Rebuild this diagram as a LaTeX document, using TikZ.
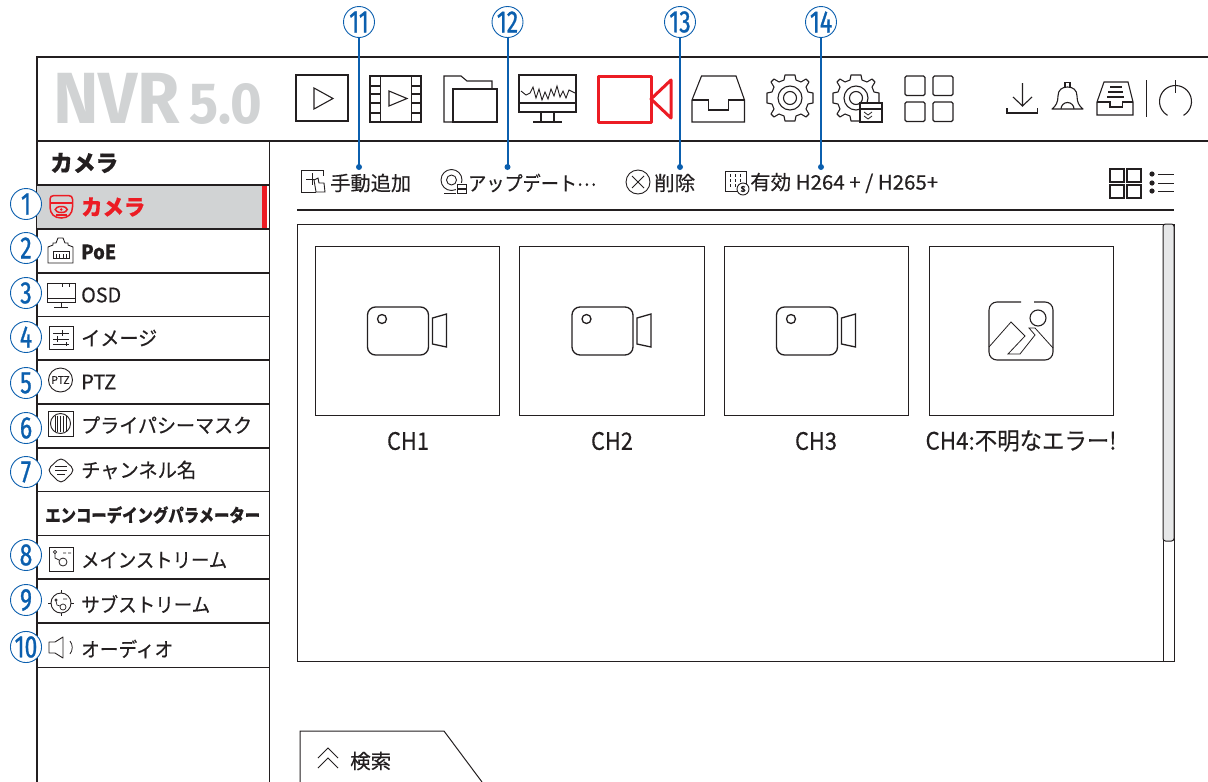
\documentclass[tikz,border=0pt]{standalone}
\usepackage{fontspec}
\usepackage{graphicx}
\setmainfont{Noto Sans CJK JP}[FakeBold=0.35]
\newfontfamily\numfont[FakeStretch=0.74,FakeBold=0.9]{Fira Sans}
\newfontfamily\logofont{Fira Sans}
\newcommand\fw[2]{\resizebox{#1pt}{\height}{#2}}
\definecolor{mblue}{HTML}{0B5FAE}
\definecolor{mred}{HTML}{EC1C24}
\definecolor{mink}{HTML}{231F20}
\definecolor{mgray}{HTML}{D1D3D4}
\definecolor{sgray}{HTML}{E6E7E8}
\tikzset{
 num/.style={circle,draw=mblue,fill=white,line width=0.9pt,minimum size=31pt,inner sep=0pt,text=mblue,font=\numfont\fontsize{31}{31}\selectfont},
 lead/.style={draw=mblue,line width=2pt},
 dot/.style={circle,fill=mblue,minimum size=6pt,inner sep=0pt},
 ic/.style={draw=mink,line width=1.1pt,line join=miter},
 rowline/.style={draw=mink,line width=1.4pt},
 side/.style={anchor=west,inner sep=0pt,text=mink,font=\fontsize{20}{20}\selectfont},
 sideb/.style={anchor=west,inner sep=0pt,text=mink,font=\fontsize{20}{20}\selectfont\bfseries},
 tool/.style={anchor=west,inner sep=0pt,text=mink,font=\fontsize{20}{20}\selectfont},
 tile/.style={draw=mink,line width=1pt},
 chl/.style={inner sep=0pt,text=mink,font=\fontsize{24}{24}\selectfont},
}
\begin{document}
\begin{tikzpicture}[x=1pt,y=-1pt]
\useasboundingbox (0,0) rectangle (1208,782);
% frame
\draw[rowline,line width=2.6pt] (37,782) -- (37,57) -- (1208,57);
\draw[rowline,line width=2pt] (37,141) -- (1208,141);
\draw[rowline,line width=1pt] (269,141) -- (269,782);
% logo
\node[anchor=base west,inner sep=0pt,text=mgray,font=\logofont\fontsize{72.5}{72.5}\selectfont\bfseries] (logoa) at (53,123) {\fw{127}{NVR}};
\node[anchor=base west,inner sep=0pt,text=mgray,font=\logofont\fontsize{58}{58}\selectfont\bfseries] (logob) at (189,123) {\fw{73}{5.0}};
% top icons
\draw[ic] (296,75) rectangle (348,121);
\draw[ic] (314,88) -- (333,98.5) -- (314,109) -- cycle;
\draw[ic] (370,76) rectangle (421,122);
\draw[ic] (380.5,76) -- (380.5,122) (411.5,76) -- (411.5,122);
\foreach \y in {86,94,103,113} \draw[ic] (370,\y) -- (380.5,\y) (411.5,\y) -- (421,\y);
\draw[ic] (389,91) -- (407,98.5) -- (389,106) -- cycle;
\draw[ic] (453,122) -- (444,122) -- (444,76) -- (461,76) -- (467,81) -- (492,81) -- (492,89);
\draw[ic] (453,89) rectangle (497,122);
\draw[ic] (519,75) rectangle (576,112);
\draw[ic] (519,103) -- (577,103);
\draw[ic] (541,112) -- (541,122) (554,112) -- (554,122) (533,122) -- (562,122);
\draw[ic,line width=0.9pt] (521,91) -- (526,95) -- (530,93) -- (533,87) -- (536,98) -- (539,89) -- (542,100) -- (545,92) -- (548,99) -- (551,89) -- (554,96) -- (557,86) -- (560,97) -- (563,91) -- (566,98) -- (569,90) -- (575,93);
\draw[draw=mred,line width=3pt,line join=round] (598,76) rectangle (651,122);
\draw[draw=mred,line width=3pt,line join=round] (651,99) -- (671,80) -- (671,118) -- cycle;
\draw[ic] (692,122) -- (692,100) -- (701.5,76) -- (736,76) -- (744.5,100) -- (744.5,122) -- cycle;
\draw[ic] (692,100) -- (708.5,100) -- (708.5,110) -- (728.5,110) -- (728.5,100) -- (744.5,100);
% gears
\foreach \cx in {790,856}{
 \draw[ic,line join=round] plot[smooth cycle,tension=0] coordinates {
  (\cx+5,98-23) (\cx+6,98-18) (\cx+11,98-16) (\cx+16,98-19) (\cx+19,98-16) (\cx+16,98-11) (\cx+18,98-6) (\cx+23,98-5)
  (\cx+23,98+5) (\cx+18,98+6) (\cx+16,98+11) (\cx+19,98+16) (\cx+16,98+19) (\cx+11,98+16) (\cx+6,98+18) (\cx+5,98+23)
  (\cx-5,98+23) (\cx-6,98+18) (\cx-11,98+16) (\cx-16,98+19) (\cx-19,98+16) (\cx-16,98+11) (\cx-18,98+6) (\cx-23,98+5)
  (\cx-23,98-5) (\cx-18,98-6) (\cx-16,98-11) (\cx-19,98-16) (\cx-16,98-19) (\cx-11,98-16) (\cx-6,98-18) (\cx-5,98-23)};
 \draw[ic] (\cx,98) circle[radius=12pt];
 \draw[ic] (\cx,98) circle[radius=6.5pt];
}
\draw[ic,fill=white] (860,103) rectangle (882,122);
\draw[ic] (860,109) -- (882,109);
\draw[ic,line width=0.8pt] (864,112) -- (868,115) -- (872,112) (864,116) -- (868,119) -- (872,116);
% grid
\foreach \x/\y in {905/76,933/76,905/102,933/102}
 \draw[ic,rounded corners=1.5pt] (\x,\y) rectangle ++(20,19.5);
% right icons
\draw[ic] (1022.5,83) -- (1022.5,106) (1013,97) -- (1022.5,106) -- (1032,97);
\draw[ic] (1007,108) -- (1007,113) -- (1037.5,113) -- (1037.5,108);
\draw[ic,line join=round] (1052,109) .. controls (1056,106) and (1058,102) .. (1058,96) .. controls (1058,90) and (1062,87) .. (1067.5,87) .. controls (1073,87) and (1077,90) .. (1077,96) .. controls (1077,102) and (1079,106) .. (1083,109) -- cycle;
\draw[ic] (1065,87) -- (1065,82.5) -- (1070,82.5) -- (1070,87);
\draw[ic] (1061,109) arc[start angle=180,end angle=0,radius=6.5pt];
\draw[ic] (1097,115) -- (1097,102) -- (1104,82) -- (1128,82) -- (1133,102) -- (1133,115) -- cycle;
\draw[ic] (1097,102) -- (1110,102) -- (1110,107) -- (1122.5,107) -- (1122.5,102) -- (1133,102);
\draw[ic] (1110,87) -- (1122,87) (1108,92) -- (1123,92) (1107,97) -- (1124,97);
\draw[ic,line width=0.7pt] (1146,80) -- (1146,117);
\draw[ic] (1175.5,101.5) ++(-60:16pt) arc[start angle=-60,end angle=240,radius=16pt];
\draw[ic] (1175.5,80) -- (1175.5,93);
% sidebar header and rows
\node[sideb,font=\fontsize{23}{23}\selectfont\bfseries] (hdr) at (50,163) {\fw{68}{カメラ}};
\fill[mgray] (37,185) rectangle (267,229);
\fill[mred] (261.5,185) rectangle (267,229);
\draw[rowline,line width=2pt] (37,185) -- (269,185) (37,229) -- (269,229);
\foreach \y in {273,360,404,448,579,623} \draw[rowline] (37,\y) -- (269,\y);
\draw[rowline,line width=1pt] (37,316) -- (269,316) (37,491.5) -- (269,491.5) (37,535) -- (269,535) (37,667) -- (269,667);
\node[sideb,text=mred,font=\fontsize{22}{22}\selectfont\bfseries] (s1) at (81,207) {\fw{64}{カメラ}};
\node[sideb] (s2) at (81,252) {\fw{35}{PoE}};
\node[side] (s3) at (81,295) {\fw{40}{OSD}};
\node[side] (s4) at (81,338) {\fw{76}{イメージ}};
\node[side] (s5) at (81,382) {\fw{35}{PTZ}};
\node[side] (s6) at (81,425) {\fw{171}{プライパシーマスク}};
\node[side] (s7) at (81,470) {\fw{115}{チャンネル名}};
\node[sideb,font=\fontsize{18}{18}\selectfont\bfseries] (senc) at (45,515) {\fw{215}{エンコーデイングパラメーター}};
\node[side] (s8) at (81,560) {\fw{146}{メインストリーム}};
\node[side] (s9) at (81,604) {\fw{129}{サブストリーム}};
\node[side] (s10) at (81,649) {\fw{92}{オーディオ}};
% sidebar icons
\draw[mred,line width=1.5pt] (54,195.5) -- (68.5,195.5) .. controls (71,195.5) and (72.5,197) .. (72.5,199) -- (72.5,207) .. controls (72.5,214) and (68,218) .. (61.25,218) .. controls (54.5,218) and (50,214) .. (50,207) -- (50,199) .. controls (50,197) and (51.5,195.5) .. (54,195.5) -- cycle;
\draw[mred,line width=1.5pt] (50,203) -- (72.5,203);
\draw[mred,line width=1.5pt] (61.25,209.5) ellipse[x radius=6pt,y radius=3pt];
\fill[mred] (61.25,209.5) circle[radius=1.4pt];
\draw[mred,line width=1.3pt] (56,215) -- (66.5,215);
\draw[ic,line width=0.9pt] (48,263) -- (73,263) -- (73,247) -- (68,245) -- (68,243) -- (65,243) -- (63,238) -- (58,238) -- (56,243) -- (53,243) -- (53,245) -- (48,247) -- cycle;
\draw[ic,line width=0.8pt] (53,251) rectangle (69,258);
\draw[ic,line width=0.7pt] (56,254) -- (56,258) (59.5,254) -- (59.5,258) (63,254) -- (63,258) (66,254) -- (66,258);
\draw[ic,line width=0.9pt] (47,283) rectangle (75,302);
\draw[ic,line width=0.9pt] (47,298) -- (75,298) (61,302) -- (61,307) (54,307) -- (68,307);
\draw[ic,line width=0.8pt] (62,284) -- (62,287) (69,284) -- (69,287);
\draw[ic,line width=0.9pt] (49,326) rectangle (73,349);
\draw[ic,line width=0.7pt] (53,333) -- (69,333) (62,330) -- (62,336) (53,339) -- (69,339) (57,336) -- (57,342) (53,344) -- (69,344) (66,342) -- (66,346);
\draw[ic,line width=0.9pt] (60.5,380) circle[radius=12pt];
\node[inner sep=0pt,text=mink,font=\fontsize{10.5}{10.5}\selectfont] (ptz) at (60.5,380) {PTZ};
\draw[ic,line width=0.9pt] (48,411) rectangle (73,436);
\draw[ic,line width=0.9pt] (60.5,423.5) circle[radius=10pt];
\foreach \x in {55,57.8,60.5,63.2,66} \draw[ic,line width=1pt] (\x,415.5) -- (\x,431.5);
\draw[ic,line width=0.9pt,rounded corners=5pt] (47,470) -- (61,457) -- (75,470) -- (61,484) -- cycle;
\draw[ic,line width=0.7pt] (55,466) -- (67,466) (55,470) -- (67,470) (57,474) -- (65,474);
\draw[ic,line width=0.9pt] (49,547) rectangle (73,571);
\draw[ic,line width=0.7pt] (55,553) -- (55,558) -- (59,560) (63,553) -- (66,553) (68,553) -- (71,553);
\draw[ic,line width=0.7pt] (55,552) circle[radius=1.6pt];
\draw[ic,line width=0.8pt] (63,562) circle[radius=4pt];
\draw[ic,line width=0.9pt] (61,603) circle[radius=10pt];
\draw[ic,line width=0.7pt] (61,590) -- (61,593) (61,613) -- (61,616) (48,603) -- (51,603) (71,603) -- (74,603);
\draw[ic,line width=0.7pt] (56,601) -- (57,605) -- (60,606) (63,599) -- (67,599);
\draw[ic,line width=0.7pt] (56,600) circle[radius=1.2pt];
\draw[ic,line width=0.7pt] (63,607) circle[radius=3pt];
\draw[ic,line width=0.9pt,line join=round] (49,642) -- (55,642) -- (63,637) -- (63,658) -- (55,653) -- (49,653) -- cycle;
\draw[ic,line width=0.8pt] (70,641) .. controls (73,645) and (73,650) .. (70,654);
% toolbar 2
\node[tool] (t1) at (330,183) {\fw{81}{手動追加}};
\node[tool] (t2) at (468,183) {\fw{128}{アップデート\raisebox{5pt}{…}}};
\node[tool] (t3) at (654,183) {\fw{41}{削除}};
\node[tool] (t4) at (750,183) {\fw{188}{有効 H264 + / H265+}};
\draw[ic,line width=0.9pt] (316,192) -- (301,192) -- (301,170) -- (323,170) -- (323,176);
\draw[ic,line width=0.8pt] (312,173) -- (312,185) (306,179) -- (318,179);
\draw[ic,line width=0.9pt,fill=white] (314,180) -- (318,178) -- (319,183) -- (324,183) -- (325,192) -- (316,192) -- cycle;
\draw[ic,line width=0.9pt] (451.5,180) circle[radius=10.5pt];
\draw[ic,line width=0.9pt] (451.5,180) circle[radius=5pt];
\fill[white] (456,183) rectangle (468,195);
\draw[ic,line width=0.8pt] (444,193) -- (456,193);
\draw[ic,line width=0.8pt] (457,184) rectangle (466,188) (457,189.5) rectangle (466,193);
\draw[ic,line width=0.9pt] (638,182) circle[radius=12pt];
\draw[ic,line width=0.9pt] (632,176) -- (644,188) (644,176) -- (632,188);
\draw[ic,line width=0.9pt] (725,171) rectangle (746,191);
\foreach \x in {730,735,740} \draw[ic,line width=0.8pt,densely dashed] (\x,174) -- (\x,188);
\draw[ic,line width=0.9pt,fill=white] (743,189) circle[radius=6pt];
\node[inner sep=0pt,text=mink,font=\fontsize{8}{8}\selectfont\bfseries] (hs) at (743,189) {S};
\foreach \x/\y in {1110/169,1127/169,1110/185,1127/185}
 \draw[ic,line width=1.3pt] (\x,\y) rectangle ++(14,13);
\foreach \y in {174,183,191} {\fill[mink] (1152,\y) circle[radius=2.6pt]; \draw[ic,line width=0.9pt] (1158,\y) -- (1174,\y);}
\draw[rowline,line width=1.4pt] (297,210) -- (1174,210);
% main panel
\draw[rowline,line width=1pt] (297,224) rectangle (1174,661);
\draw[rowline,line width=1pt] (1163,224) -- (1163,661);
\draw[fill=sgray,draw=mink,line width=1pt,rounded corners=2.5pt] (1163,224) rectangle (1174,541);
% tiles
\foreach \x/\n in {315/a,519.5/b,724/c,929/d}
 \draw[tile] (\x,246) rectangle ++(184.5,169);
\foreach \x in {367.5,572,776.5}{
 \draw[ic,line width=1.3pt,rounded corners=8pt] (\x,307) rectangle ++(61,48);
 \draw[ic,line width=1.3pt] (\x+14.5,319) circle[radius=4.5pt];
 \draw[ic,line width=1.3pt] (\x+65,318) -- (\x+79,314) -- (\x+79,347) -- (\x+65,344) -- cycle;
}
\draw[ic,rounded corners=8pt] (1021,302) -- (989,302) -- (989,360) -- (1053,360) -- (1053,302) -- (1034,302);
\draw[ic] (1038,318) circle[radius=8pt];
\draw[ic,line width=0.8pt] (989,347) -- (1011,322) -- (1025,336) -- (1008,354) -- (1020,354) -- (1035,335) -- (1029,328) -- (1035,328) -- (1053,348);
\node[chl] (ch1) at (408,441) {\fw{42}{CH1}};
\node[chl] (ch2) at (612,441) {\fw{42}{CH2}};
\node[chl] (ch3) at (816,441) {\fw{42}{CH3}};
\node[chl] (ch4) at (1021,441) {\fw{191}{CH4:不明なエラー!}};
% search tab
\draw[rowline,line width=1pt] (300,782) -- (300,731) -- (444,731) -- (482,782);
\draw[ic,line width=0.9pt] (318,758) -- (328,748) -- (338,758) (318,768) -- (328,758) -- (338,768);
\node[tool] (srch) at (350,761) {\fw{41}{検索}};
% numbered callouts on the left
\foreach \n/\y/\t in {n1/204/1,n2/248/2,n3/293/3,n4/337/4,n5/383/5,n6/428/6,n7/472/7,n8/555/8,n9/600/9,n10/647/10}
 \node[num] (\n) at (26,\y) {\t};
% top callouts
\node[num] (n11) at (359,22) {11};
\node[num] (n12) at (507.5,22) {12};
\node[num] (n13) at (680,22) {13};
\node[num] (n14) at (821,22) {14};
\coordinate (e11) at (359,167);
\coordinate (e12) at (507.5,167);
\coordinate (e13) at (680,167);
\coordinate (e14) at (821,167);
\foreach \k in {11,12,13,14}{
 \draw[lead] (n\k) -- (e\k);
 \node[dot] (d\k) at (e\k) {};
}
\end{tikzpicture}
\end{document}
